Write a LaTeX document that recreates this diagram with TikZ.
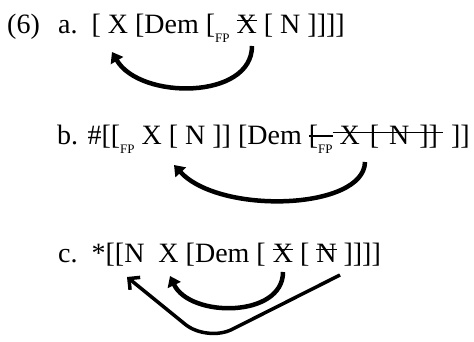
\documentclass[tikz,border=0pt]{standalone}
\usepackage{fontspec}
\setmainfont{Liberation Serif}
\usetikzlibrary{arrows.meta}
\newsavebox\strkbox
\newcommand\strk[2][0.42em]{\sbox\strkbox{#2}\rlap{\rule[#1]{\wd\strkbox}{0.05em}}\usebox\strkbox}
\newcommand\fp{\raisebox{-0.3em}{\fontsize{13}{13}\selectfont FP}}
\tikzset{
  ex/.style={anchor=base west, inner sep=0pt, font=\fontsize{28}{30}\selectfont},
  mv/.style={line width=4.5pt, -{Triangle[length=10pt,width=14pt]}},
  mvbig/.style={line width=3.5pt, -{Straight Barb[length=8pt,width=16pt,line width=3.5pt]}, rounded corners=28pt}
}
\begin{document}
\begin{tikzpicture}[x=1pt,y=-1pt]
\useasboundingbox (0,0) rectangle (474,342);
\node[ex] (n6) at (7,34) {(6)};
\node[ex] (la) at (58,34) {a.\ \ [ X [Dem [\fp\ \strk[0.45em]{X} [ N ]]]]};
\node[ex] (lb) at (57,145) {b. \#[[\fp\ X [ N ]] [Dem \strk[0.3em]{[\fp}\strk[0.42em]{\ X\hspace{3pt} [\hspace{3pt} N\hspace{3pt} ]]\hspace{5pt}}\hspace{1pt} ]]};
\node[ex] (lc) at (58,262) {c.\ \ *[[N\ \ X [Dem [ \strk{X} [ \strk{N} ]]]]};
% arrows
\coordinate (a1) at (252,46);
\coordinate (a2) at (112,52);
\draw[mv] (a1) .. controls (252,100) and (140,100) .. (a2);
\coordinate (b1) at (365,162);
\coordinate (b2) at (174,165);
\draw[mv] (b1) .. controls (364,210) and (220,215) .. (b2);
\coordinate (c1) at (283,272);
\coordinate (c2) at (170,276);
\draw[mv] (c1) .. controls (283,318) and (190,318) .. (c2);
\coordinate (d1) at (340,275);
\coordinate (d2) at (127,277);
\draw[mvbig] (d1) -- (207,342) -- (d2);
\end{tikzpicture}
\end{document}
